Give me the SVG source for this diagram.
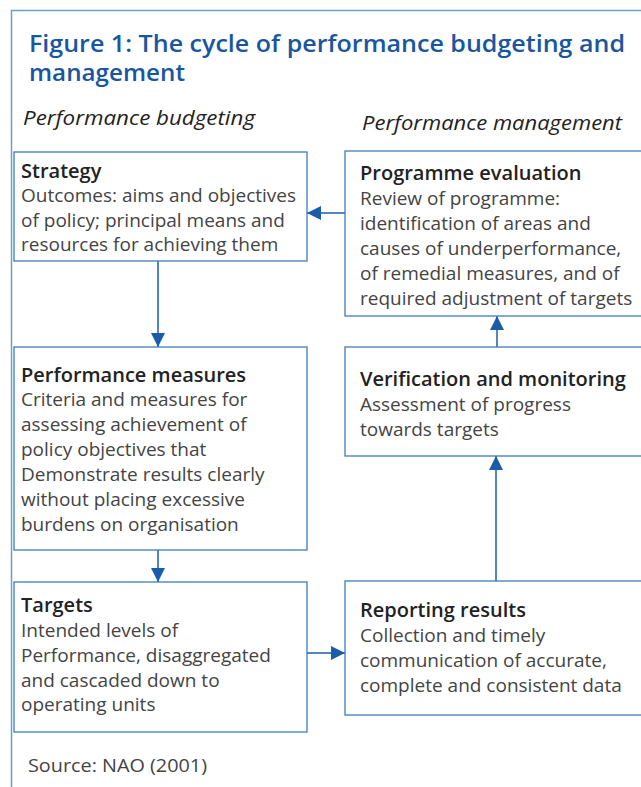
<svg xmlns="http://www.w3.org/2000/svg" width="641" height="787" viewBox="0 0 641 787">
<style>
.frame{fill:none;stroke:#6a9fd0;stroke-width:1.5}
.box{fill:#fff;stroke:#3f7cc0;stroke-width:1.3}
.title{font-family:"Open Sans","Liberation Sans",sans-serif;font-weight:600;font-size:23px;fill:#1a56a0}
.sec{font-family:"Open Sans","Liberation Sans",sans-serif;font-style:italic;font-size:19.5px;fill:#222}
.h{font-family:"Open Sans","Liberation Sans",sans-serif;font-weight:600;font-size:20px;fill:#222}
.b{font-family:"Open Sans","Liberation Sans",sans-serif;font-size:19px;fill:#444}
.c{fill:none;stroke:#1a5ca8;stroke-width:1.5}
</style>
<defs>
<marker id="ah" viewBox="0 0 10 10" refX="10" refY="5" markerWidth="14" markerHeight="14" markerUnits="userSpaceOnUse" orient="auto">
<path d="M0,0 L10,5 L0,10 z" fill="#1a5ca8"/>
</marker>
</defs>
<rect width="641" height="787" fill="#fff"/>
<path class="frame" d="M641,10.5 H11.5 V787"/>
<text class="title" x="29" y="52" textLength="596" lengthAdjust="spacingAndGlyphs">Figure 1: The cycle of performance budgeting and</text>
<text class="title" x="29" y="81" textLength="156" lengthAdjust="spacingAndGlyphs">management</text>
<text class="sec" x="23" y="125" textLength="232" lengthAdjust="spacingAndGlyphs">Performance budgeting</text>
<text class="sec" x="362" y="130" textLength="260" lengthAdjust="spacingAndGlyphs">Performance management</text>

<g id="connectors">
<path class="c" d="M158,261 V347" marker-end="url(#ah)"/>
<path class="c" d="M158,550 V582" marker-end="url(#ah)"/>
<path class="c" d="M307,653 H345" marker-end="url(#ah)"/>
<path class="c" d="M496,581 V456" marker-end="url(#ah)"/>
<path class="c" d="M497,347 V316" marker-end="url(#ah)"/>
<path class="c" d="M345,213 H307" marker-end="url(#ah)"/>
</g>

<g id="strategy">
<rect class="box" x="14" y="152" width="293" height="109"/>
<text class="h" x="21" y="178">Strategy</text>
<text class="b" x="21" y="202">Outcomes: aims and objectives</text>
<text class="b" x="21" y="227">of policy; principal means and</text>
<text class="b" x="21" y="251">resources for achieving them</text>
</g>

<g id="performance-measures">
<rect class="box" x="14" y="347" width="293" height="203"/>
<text class="h" x="21" y="382">Performance measures</text>
<text class="b" x="21" y="406">Criteria and measures for</text>
<text class="b" x="21" y="431">assessing achievement of</text>
<text class="b" x="21" y="456">policy objectives that</text>
<text class="b" x="21" y="481">Demonstrate results clearly</text>
<text class="b" x="21" y="506">without placing excessive</text>
<text class="b" x="21" y="531">burdens on organisation</text>
</g>

<g id="targets">
<rect class="box" x="14" y="582" width="293" height="150"/>
<text class="h" x="21" y="612">Targets</text>
<text class="b" x="21" y="637">Intended levels of</text>
<text class="b" x="21" y="662">Performance, disaggregated</text>
<text class="b" x="21" y="687">and cascaded down to</text>
<text class="b" x="21" y="711">operating units</text>
</g>

<g id="programme-evaluation">
<rect class="box" x="345" y="151" width="310" height="165"/>
<text class="h" x="360" y="180">Programme evaluation</text>
<text class="b" x="360" y="205">Review of programme:</text>
<text class="b" x="360" y="230">identification of areas and</text>
<text class="b" x="360" y="255">causes of underperformance,</text>
<text class="b" x="360" y="280">of remedial measures, and of</text>
<text class="b" x="360" y="305">required adjustment of targets</text>
</g>

<g id="verification">
<rect class="box" x="345" y="347" width="310" height="109"/>
<text class="h" x="360" y="386">Verification and monitoring</text>
<text class="b" x="360" y="411">Assessment of progress</text>
<text class="b" x="360" y="436">towards targets</text>
</g>

<g id="reporting">
<rect class="box" x="345" y="581" width="310" height="134"/>
<text class="h" x="360" y="617">Reporting results</text>
<text class="b" x="360" y="642">Collection and timely</text>
<text class="b" x="360" y="667">communication of accurate,</text>
<text class="b" x="360" y="692">complete and consistent data</text>
</g>

<text class="b" x="28" y="772" textLength="179" lengthAdjust="spacingAndGlyphs">Source: NAO (2001)</text>
</svg>
